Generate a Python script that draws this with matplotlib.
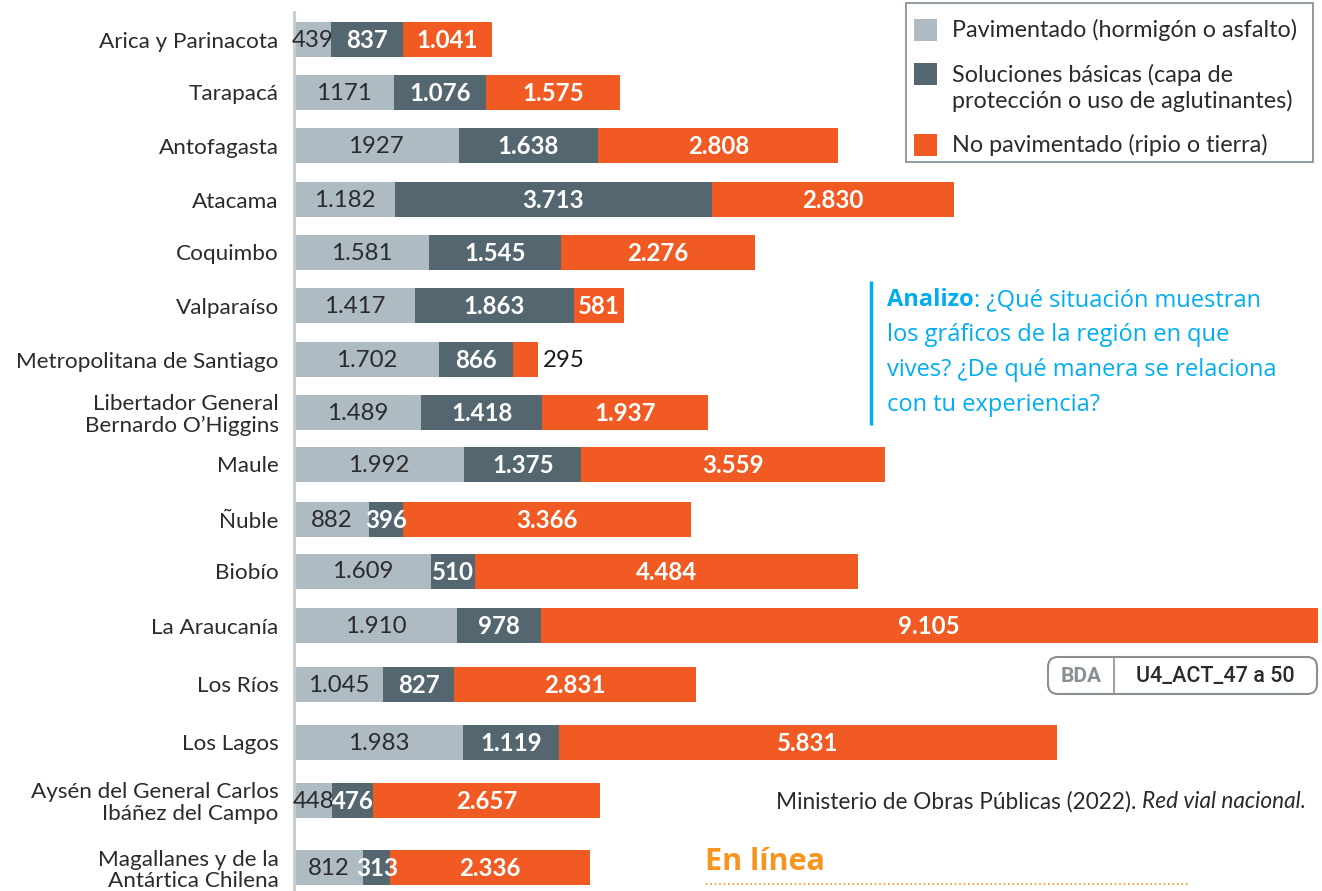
#!/usr/bin/env python3

import matplotlib.pyplot as plt
from matplotlib.patches import FancyBboxPatch, Rectangle

# Red vial por región (km)
regions = [
    "Arica y Parinacota", "Tarapacá", "Antofagasta", "Atacama", "Coquimbo",
    "Valparaíso", "Metropolitana de Santiago",
    "Libertador General\nBernardo O\u2019Higgins", "Maule", "Ñuble", "Biobío",
    "La Araucanía", "Los Ríos", "Los Lagos",
    "Aysén del General Carlos\nIbáñez del Campo",
    "Magallanes y de la\nAntártica Chilena",
]
pavimentado = [439, 1171, 1927, 1182, 1581, 1417, 1702, 1489, 1992, 882,
               1609, 1910, 1045, 1983, 448, 812]
basicas = [837, 1076, 1638, 3713, 1545, 1863, 866, 1418, 1375, 396, 510,
           978, 827, 1119, 476, 313]
no_pavimentado = [1041, 1575, 2808, 2830, 2276, 581, 295, 1937, 3559, 3366,
                  4484, 9105, 2831, 5831, 2657, 2336]
# labels as printed (two values come without the thousands dot)
pav_labels = ["439", "1171", "1927", "1.182", "1.581", "1.417", "1.702",
              "1.489", "1.992", "882", "1.609", "1.910", "1.045", "1.983",
              "448", "812"]
legend_labels = [
    "Pavimentado (hormigón o asfalto)",
    "Soluciones básicas (capa de\nprotección o uso de aglutinantes)",
    "No pavimentado (ripio o tierra)",
]

# bar centres in pixel rows
ypos = [39.5, 92.5, 145.5, 199.5, 252.5, 305.5, 359.5, 412.5, 464.5, 519.5,
        571, 625.5, 684.5, 742.5, 800.5, 867.5]

W, H = 1322, 891
C_PAV = "#aebbc3"
C_BAS = "#546670"
C_NOP = "#f15a22"
C_BLUE = "#00aeef"
C_TXT = "#2b2b2b"

FONT = "Lato"
VAL_FS = 17.3


def fmt(v):
    return f"{v:,}".replace(",", ".")


fig = plt.figure(figsize=(W / 100, H / 100), dpi=100)
ax = fig.add_axes([294 / W, 0, 1 - 294 / W, 1])
ax.set_xlim(0, 1028 / 0.08538)
ax.set_ylim(H, 0)

bh = 35
left2 = pavimentado
left3 = [a + b for a, b in zip(pavimentado, basicas)]
ax.barh(ypos, pavimentado, height=bh, color=C_PAV)
ax.barh(ypos, basicas, left=left2, height=bh, color=C_BAS)
ax.barh(ypos, no_pavimentado, left=left3, height=bh, color=C_NOP)

for i, y in enumerate(ypos):
    ax.text(pavimentado[i] / 2, y + 1, pav_labels[i], ha="center", va="center",
            color=C_TXT, fontsize=VAL_FS, family=FONT)
    ax.text(left2[i] + basicas[i] / 2, y + 1, fmt(basicas[i]), ha="center",
            va="center", color="white", fontsize=VAL_FS, family=FONT,
            weight="bold")
    v = no_pavimentado[i]
    if v < 400:
        ax.text(left3[i] + v + 50, y + 1, fmt(v), ha="left", va="center",
                color="#1a1a1a", fontsize=VAL_FS, family=FONT)
    else:
        ax.text(left3[i] + v / 2, y + 1, fmt(v), ha="center", va="center",
                color="white", fontsize=VAL_FS, family=FONT, weight="bold")

ax.set_yticks(ypos, regions)
ax.tick_params(axis="y", length=0, pad=11)
ax.tick_params(axis="x", bottom=False, labelbottom=False)
for lbl in ax.get_yticklabels():
    lbl.set_fontsize(16.2)
    lbl.set_family(FONT)
    lbl.set_color(C_TXT)
    lbl.set_linespacing(1.1)
for s in ["top", "right", "bottom"]:
    ax.spines[s].set_visible(False)
ax.spines["left"].set_bounds(12, H)
ax.spines["left"].set_color("#c3ccd2")
ax.spines["left"].set_linewidth(2)
ax.set_facecolor("none")

# overlay in pixel coordinates for the notes
ov = fig.add_axes([0, 0, 1, 1])
ov.set_xlim(0, W)
ov.set_ylim(H, 0)
ov.axis("off")

# legend
ov.add_patch(Rectangle((906, 3), 407, 159, fill=False, ec="#7d8a92", lw=1.2))
for y, c, lab in zip([30, 74, 145], [C_PAV, C_BAS, C_NOP], legend_labels):
    ov.add_patch(Rectangle((914, y - 11), 23, 22, color=c, lw=0))
    ov.text(952, y + (14 if "\n" in lab else 0), lab, ha="left",
            va="center", fontsize=16.8, family=FONT, color=C_TXT,
            linespacing=1.2)

# question box
ov.plot([871, 871], [281, 425], color=C_BLUE, lw=2.5, solid_capstyle="butt")
q_lines = ["¿Qué situación muestran", "los gráficos de la región en que",
           "vives? ¿De qué manera se relaciona", "con tu experiencia?"]
t = ov.text(887, 300, "Analizo", ha="left", va="center", fontsize=17,
            family="Open Sans", weight="bold", color=C_BLUE)
fig.canvas.draw()
bb = t.get_window_extent()
ov.text(887 + bb.width, 300, ": " + q_lines[0], ha="left", va="center",
        fontsize=17, family="Open Sans", color=C_BLUE)
for k, line in enumerate(q_lines[1:], start=1):
    ov.text(887, 300 + 35 * k, line, ha="left", va="center", fontsize=17,
            family="Open Sans", color=C_BLUE)

# resource code tag
ov.add_patch(FancyBboxPatch((1048, 657), 269, 37,
                            boxstyle="round,pad=0,rounding_size=10",
                            fill=False, ec="#8a8f93", lw=1.5))
ov.plot([1114, 1114], [657, 694], color="#8a8f93", lw=1.2)
ov.text(1081, 676, "BDA", ha="center", va="center", fontsize=15,
        family="Roboto", weight="bold", color="#8a8f93")
ov.text(1215, 676, "U4_ACT_47 a 50", ha="center", va="center", fontsize=15.5,
        family="Roboto", weight="medium", color=C_TXT)

# source
src = ov.text(1306, 802, "Red vial nacional.", ha="right", va="center",
              fontsize=16.3, family=FONT, style="italic", color=C_TXT)
fig.canvas.draw()
sb = src.get_window_extent()
ov.text(1306 - sb.width, 802, "Ministerio de Obras Públicas (2022). ",
        ha="right", va="center", fontsize=16.3, family=FONT, color=C_TXT)

# online section heading
ov.text(705, 862, "En línea", ha="left", va="center", fontsize=22,
        family="Open Sans", weight="bold", color="#f7941d")
ov.plot([706, 1188], [884, 884], color="#f7941d", lw=1.6,
        linestyle=(0, (0.6, 1.4)))

fig.savefig("out.png", dpi=100)
